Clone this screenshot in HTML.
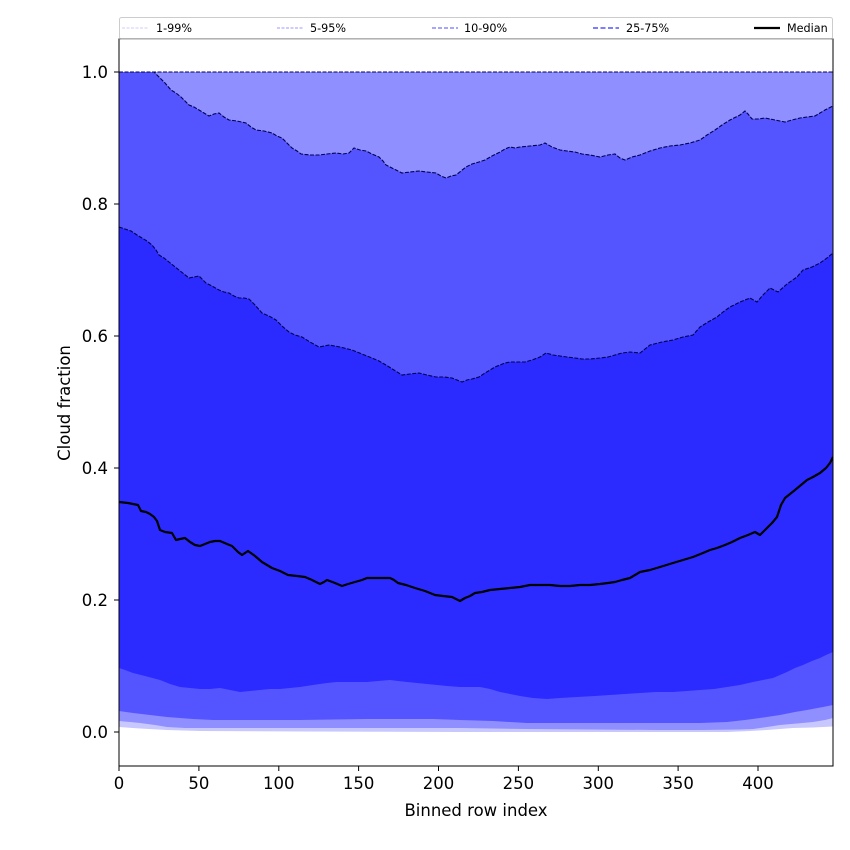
<!DOCTYPE html>
<html><head><meta charset="utf-8"><style>
html,body{margin:0;padding:0;background:#fff;}
svg{display:block;}
text{font-family:"DejaVu Sans","Liberation Sans",sans-serif;fill:#000;}
</style></head><body>
<svg width="850" height="850" viewBox="0 0 850 850" xmlns="http://www.w3.org/2000/svg">
<rect width="850" height="850" fill="#fff"/>
<defs><clipPath id="c"><rect x="119" y="39" width="714" height="727"/></clipPath></defs>
<g clip-path="url(#c)">
<polygon fill="#c8c8ff" points="119,72 833,72 833,726.5 813,727.5 793,728 780,729 767,730 750,731 727,732 460,732 300,731.5 200,731 167,730 140,728.5 119,727"/>
<polygon fill="#8f8fff" points="119,72 833,72 833,718 825,720 813,722 797,723.5 780,725 767,727 753,729 740,729.5 700,730 660,730 527,729 460,728 300,728 200,728 185,728 167,727 155,725 140,723 130,722 119,721"/>
<polygon fill="#5555ff" points="119,72 154,72 159,77 165,83 171,90 176,93 181,97 185,101 189,105 194,107 199,110 204,113 209,116 214,114 219,113 224,117 229,120 237,121 246,123 251,127 256,130 264,131 272,133 277,136 282,138 287,143 292,148 297,151 301,154 310,155 319,155 327,154 336,153 343,154 349,153 354,148 360,150 366,151 372,154 379,157 383,161 386,165 394,169 402,173 410,172 419,171 427,172 436,173 441,176 446,178 451,176 456,175 461,171 466,167 472,164 479,162 485,160 492,156 500,152 505,149 510,147 515,148 520,147 530,146 540,145 545,143 552,147 560,150 567,151 575,152 582,154 590,155 600,157 608,155 615,154 620,158 625,160 632,157 640,155 650,151 660,148 670,146 680,145 690,143 700,140 707,135 715,130 722,125 730,120 736,117 740,115 745,111 748,114 752,119 758,119 765,118 770,119 775,120 780,121 785,122 792,120 800,118 807,117 815,116 820,113 825,110 829,108 833,106 833,705 823,707 815,708.5 807,710 795,712 780,715 770,716.5 760,718 745,720 727,722 700,723 660,723 593,723 527,723 493,721 460,720 433,719 367,719 300,720 233,720 213,720 193,719 180,718 167,717 150,715 133,713 119,711"/>
<polygon fill="#2b2bff" points="119,227 125,229 131,231 137,235 142,238 147,241 152,245 156,250 159,255 164,258 169,262 174,266 179,270 184,274 189,278 194,277 199,276 203,280 206,283 212,286 219,290 224,292 229,293 234,296 239,298 244,298 249,299 255,305 262,313 269,316 276,320 282,326 289,332 295,335 302,337 310,342 319,347 324,346 329,345 340,347 352,350 362,354 372,358 379,361 386,365 394,370 402,375 410,374 419,373 427,375 436,377 444,377 452,378 457,380 462,382 467,380 472,379 479,377 485,373 490,370 495,367 500,365 505,363 510,362 518,362 525,362 532,360 540,357 546,353 553,355 560,356 567,357 575,358 582,359 590,359 600,358 608,357 615,355 622,353 630,352 640,353 645,349 650,345 662,342 673,340 683,337 693,335 700,327 708,322 717,317 723,312 730,307 740,302 750,298 757,302 763,295 770,288 778,292 787,284 797,277 803,270 812,267 820,263 827,258 833,253 833,652 826,655 820,658 812,661 803,665 795,668 787,672 780,675 773,678 763,680 753,682 740,685 727,687 714,689 700,690 687,691 673,692 656,692 640,693 625,694 610,695 595,696 577,697 560,698 547,699 533,698 520,696 510,694 500,692 490,689 480,687 470,687 460,687 447,686 437,685 427,684 417,683 407,682 398,681 390,680 378,681 367,682 357,682 347,682 337,682 327,683 313,685 300,687 290,688 280,689 270,689 260,690 250,691 240,692 230,690 220,688 210,689 200,689 190,688 180,687 170,684 160,680 145,676 133,673 125,670 119,668"/>
<line x1="119" y1="72" x2="833" y2="72" stroke="#000060" stroke-width="1" stroke-dasharray="4,1.5"/>
<polyline fill="none" stroke="#000050" stroke-width="1.1" stroke-dasharray="4,1.5" points="119,72 154,72 159,77 165,83 171,90 176,93 181,97 185,101 189,105 194,107 199,110 204,113 209,116 214,114 219,113 224,117 229,120 237,121 246,123 251,127 256,130 264,131 272,133 277,136 282,138 287,143 292,148 297,151 301,154 310,155 319,155 327,154 336,153 343,154 349,153 354,148 360,150 366,151 372,154 379,157 383,161 386,165 394,169 402,173 410,172 419,171 427,172 436,173 441,176 446,178 451,176 456,175 461,171 466,167 472,164 479,162 485,160 492,156 500,152 505,149 510,147 515,148 520,147 530,146 540,145 545,143 552,147 560,150 567,151 575,152 582,154 590,155 600,157 608,155 615,154 620,158 625,160 632,157 640,155 650,151 660,148 670,146 680,145 690,143 700,140 707,135 715,130 722,125 730,120 736,117 740,115 745,111 748,114 752,119 758,119 765,118 770,119 775,120 780,121 785,122 792,120 800,118 807,117 815,116 820,113 825,110 829,108 833,106"/>
<polyline fill="none" stroke="#000050" stroke-width="1.1" stroke-dasharray="4,1.5" points="119,227 125,229 131,231 137,235 142,238 147,241 152,245 156,250 159,255 164,258 169,262 174,266 179,270 184,274 189,278 194,277 199,276 203,280 206,283 212,286 219,290 224,292 229,293 234,296 239,298 244,298 249,299 255,305 262,313 269,316 276,320 282,326 289,332 295,335 302,337 310,342 319,347 324,346 329,345 340,347 352,350 362,354 372,358 379,361 386,365 394,370 402,375 410,374 419,373 427,375 436,377 444,377 452,378 457,380 462,382 467,380 472,379 479,377 485,373 490,370 495,367 500,365 505,363 510,362 518,362 525,362 532,360 540,357 546,353 553,355 560,356 567,357 575,358 582,359 590,359 600,358 608,357 615,355 622,353 630,352 640,353 645,349 650,345 662,342 673,340 683,337 693,335 700,327 708,322 717,317 723,312 730,307 740,302 750,298 757,302 763,295 770,288 778,292 787,284 797,277 803,270 812,267 820,263 827,258 833,253"/>
<polyline fill="none" stroke="#000" stroke-width="2.2" stroke-linejoin="round" points="119,502 128,503 138,505 141,511 146,512 150,514 154,517 157,521 160,530 165,532 172,533 176,540 180,539 185,538 190,542 195,545 200,546 205,544 210,542 215,541 220,541 227,544 232,546 235,549 238,552 242,555 245,553 248,551 255,556 262,562 267,565 272,568 280,571 288,575 297,576 305,577 312,580 320,584 324,582 327,580 335,583 342,586 348,584 355,582 362,580 367,578 373,578 378,578 384,578 390,578 394,580 398,583 406,585 415,588 425,591 435,595 443,596 452,597 456,599 460,601 465,598 470,596 475,593 482,592 490,590 500,589 510,588 520,587 530,585 540,585 550,585 560,586 570,586 580,585 590,585 600,584 608,583 615,582 622,580 630,578 635,575 640,572 650,570 660,567 673,563 683,560 693,557 703,553 710,550 717,548 725,545 732,542 740,538 748,535 755,532 760,535 764,531 767,528 772,523 777,517 781,505 785,498 790,494 795,490 801,485 807,480 813,477 820,473 826,468 830,463 833,457"/>
</g>
<rect x="119" y="39" width="714" height="727" fill="none" stroke="#000" stroke-width="1"/>
<g stroke="#000" stroke-width="1">
<line x1="114" y1="732" x2="119" y2="732"/>
<line x1="114" y1="600" x2="119" y2="600"/>
<line x1="114" y1="468" x2="119" y2="468"/>
<line x1="114" y1="336" x2="119" y2="336"/>
<line x1="114" y1="204" x2="119" y2="204"/>
<line x1="114" y1="72" x2="119" y2="72"/>
<line x1="119" y1="766" x2="119" y2="771"/>
<line x1="198.9" y1="766" x2="198.9" y2="771"/>
<line x1="278.8" y1="766" x2="278.8" y2="771"/>
<line x1="358.6" y1="766" x2="358.6" y2="771"/>
<line x1="438.5" y1="766" x2="438.5" y2="771"/>
<line x1="518.4" y1="766" x2="518.4" y2="771"/>
<line x1="598.3" y1="766" x2="598.3" y2="771"/>
<line x1="678.1" y1="766" x2="678.1" y2="771"/>
<line x1="758" y1="766" x2="758" y2="771"/>
</g>
<g font-size="16.5" text-anchor="end">
<text x="108" y="738">0.0</text>
<text x="108" y="606">0.2</text>
<text x="108" y="474">0.4</text>
<text x="108" y="342">0.6</text>
<text x="108" y="210">0.8</text>
<text x="108" y="78">1.0</text>
</g>
<g font-size="16.5" text-anchor="middle">
<text x="119" y="789">0</text>
<text x="198.9" y="789">50</text>
<text x="278.8" y="789">100</text>
<text x="358.6" y="789">150</text>
<text x="438.5" y="789">200</text>
<text x="518.4" y="789">250</text>
<text x="598.3" y="789">300</text>
<text x="678.1" y="789">350</text>
<text x="758" y="789">400</text>
<text x="476" y="816">Binned row index</text>
<text transform="translate(70,403) rotate(-90)">Cloud fraction</text>
</g>
<rect x="119.5" y="17.5" width="713" height="21.5" rx="2" fill="#fff" fill-opacity="0.9" stroke="#cccccc" stroke-width="1"/>
<line x1="119" y1="38.8" x2="833" y2="38.8" stroke="#999" stroke-width="1.2"/>
<line x1="122" y1="28" x2="148" y2="28" stroke="#ccccff" stroke-width="1" stroke-dasharray="3,1.5"/>
<line x1="277" y1="28" x2="303" y2="28" stroke="#9999ff" stroke-width="1" stroke-dasharray="3,1.5"/>
<line x1="432" y1="28" x2="458" y2="28" stroke="#7070ff" stroke-width="1.3" stroke-dasharray="4,2"/>
<line x1="593" y1="28" x2="619" y2="28" stroke="#6b6bff" stroke-width="1.8" stroke-dasharray="5,2.5"/>
<line x1="754" y1="28" x2="780" y2="28" stroke="#000" stroke-width="2.2"/>
<g font-size="11.2">
<text x="156" y="32">1-99%</text>
<text x="310" y="32">5-95%</text>
<text x="464" y="32">10-90%</text>
<text x="626" y="32">25-75%</text>
<text x="787" y="32">Median</text>
</g>
</svg>
</body></html>
